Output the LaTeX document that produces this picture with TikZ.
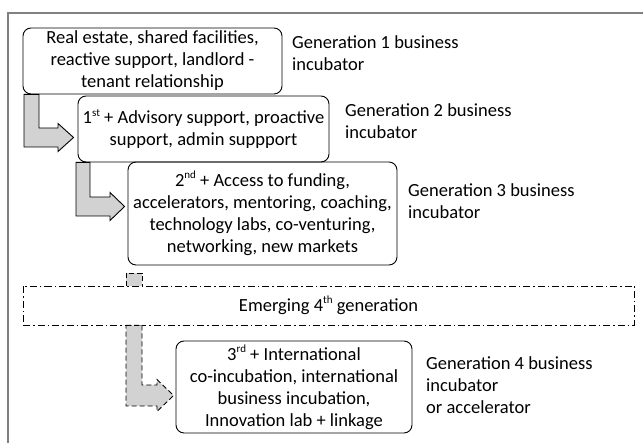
\documentclass[tikz,border=0pt]{standalone}
\usepackage{fontspec}
\setmainfont{Carlito}
\usepackage{tikz}
\usetikzlibrary{positioning}

\newcommand{\gentext}{\fontsize{18.5}{22}\selectfont}
\newcommand{\gensup}[1]{\raisebox{0.42em}{\fontsize{11}{11}\selectfont #1}}

\begin{document}
\begin{tikzpicture}[
    x=1pt, y=-1pt,
    genbox/.style={rectangle, rounded corners=8pt, draw=black, line width=0.9pt, align=center, inner sep=2pt, font=\gentext},
    genlabel/.style={anchor=west, align=left, inner sep=0pt, font=\gentext},
    emergebox/.style={rectangle, draw=black, line width=0.8pt, dash pattern=on 7pt off 3pt on 1.5pt off 3pt, minimum width=611pt, minimum height=39pt, font=\gentext},
    stagearrow/.style={draw=black, line width=0.9pt, fill=gray!35, line join=miter},
    futurearrow/.style={stagearrow, dash pattern=on 5pt off 3pt}
]
\useasboundingbox (0,0) rectangle (643,443);

% frame
\draw[black!50, line width=1.2pt] (8,443) -- (8,13) -- (643,13);

% Generations
\node[genbox, minimum width=259pt, minimum height=66pt] (g1) at (152.5,61)
    {Real estate, shared facilities,\\ reactive support, landlord -\\ tenant relationship};
\node[genbox, minimum width=251pt, minimum height=66pt] (g2) at (203.5,129)
    {1\gensup{st} + Advisory support, proactive\\ support, admin suppport};
\node[genbox, minimum width=269pt, minimum height=103pt] (g3) at (262.5,213.5)
    {2\gensup{nd} + Access to funding,\\ accelerators, mentoring, coaching,\\ technology labs, co-venturing,\\ networking, new markets};
\node[emergebox] (emerge) at (328.5,305.5) {Emerging 4\gensup{th} generation};
\node[genbox, minimum width=236pt, minimum height=92pt] (g4) at (294,387)
    {3\gensup{rd} + International\\ co-incubation, international\\ business incubation,\\ Innovation lab + linkage};

% Labels
\node[genlabel] (l1) at (292,53.5) {Generation 1 business\\ incubator};
\node[genlabel] (l2) at (345,121) {Generation 2 business\\ incubator};
\node[genlabel] (l3) at (408,201.5) {Generation 3 business\\ incubator};
\node[genlabel] (l4) at (426,385.5) {Generation 4 business\\ incubator\\ or accelerator};

\coordinate (tip1) at ([xshift=-4pt]g2.west);
\coordinate (tip2) at ([xshift=-3pt]g3.west);
\coordinate (tip3) at ([xshift=-2pt]g4.west);

% Gen 1 -> Gen 2
\draw[stagearrow] (24,0 |- g1.south) -- (39,0 |- g1.south) -- (39,128) -- (58,128) -- (58,123.5)
    -- (tip1 |- 0,137.5) -- (58,151.5) -- (58,147) -- (24,147) -- cycle;

% Gen 2 -> Gen 3
\draw[stagearrow] (76,0 |- g2.south) -- (90,0 |- g2.south) -- (90,197) -- (110,197) -- (110,192.5)
    -- (tip2 |- 0,206.5) -- (110,220.5) -- (110,216) -- (76,216) -- cycle;

% Gen 3 -> emerging -> Gen 4
\fill[gray!35] (126,273) rectangle (142,0 |- emerge.north);
\draw[futurearrow, fill=none] (126,0 |- emerge.north) -- (126,273) -- (142,273) -- (142,0 |- emerge.north);
\draw[futurearrow] (126,0 |- emerge.south) -- (142,0 |- emerge.south) -- (142,385) -- (157,385) -- (157,379.5)
    -- (tip3 |- 0,395.5) -- (157,411.5) -- (157,406) -- (126,406) -- cycle;

\end{tikzpicture}
\end{document}
